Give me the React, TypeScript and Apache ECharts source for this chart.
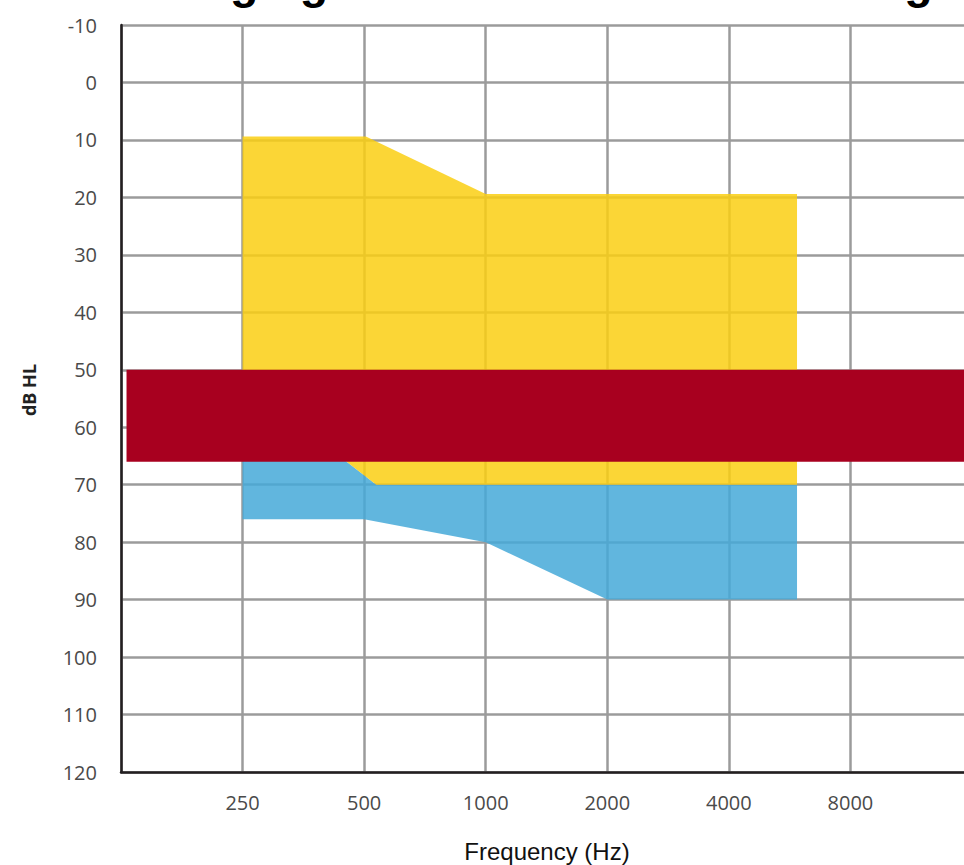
import React, { useEffect, useRef } from 'react';
import * as echarts from 'echarts';

// ---- texts ----
const titleText = 'Ringing in the ears and the hearing';
const yAxisName = 'dB HL';
const xAxisName = 'Frequency (Hz)';

// ---- axes ----
const baseHz = 125;
const freqTicksHz = [125, 250, 500, 1000, 2000, 4000, 8000, 16000];
const freqTickLabels = ['', '250', '500', '1000', '2000', '4000', '8000', ''];
const dbMin = -10;
const dbMax = 120;
const dbStep = 10;

// ---- yellow region (top edge, bottom edge) ----
const yellowTopHz = [250, 505, 1000, 5900];
const yellowTopDb = [9.4, 9.4, 19.4, 19.4];
const yellowBottomHz = [250, 536, 5900];
const yellowBottomDb = [52, 70, 70];

// ---- blue region (top edge is yellow bottom edge) ----
const blueBottomHz = [250, 500, 1000, 2000, 5900];
const blueBottomDb = [76, 76, 80, 90, 90];

// ---- red band ----
const redBandHz = [129, 16000];
const redBandDb = [50, 66];

const toOct = (hz: number) => Math.log2(hz / baseHz);

function polygonPoints(topHz: number[], topDb: number[], botHz: number[], botDb: number[]) {
  const pts: number[][] = [];
  topHz.forEach((h, i) => pts.push([toOct(h), topDb[i]]));
  for (let i = botHz.length - 1; i >= 0; i--) pts.push([toOct(botHz[i]), botDb[i]]);
  return pts;
}

function polygonSeries(name: string, pts: number[][], color: string, opacity: number, z: number) {
  return {
    type: 'custom',
    name,
    z,
    data: pts,
    encode: { x: 0, y: 1 },
    silent: true,
    renderItem: (params: any, api: any) => {
      if (params.dataIndex !== 0) return null;
      const points = pts.map((p) => api.coord(p));
      return {
        type: 'polygon',
        shape: { points },
        style: { fill: color, opacity },
      };
    },
  };
}

export default function App() {
  const ref = useRef<HTMLDivElement>(null);

  useEffect(() => {
    if (!ref.current) return;
    const chart = echarts.init(ref.current, undefined, { renderer: 'svg' });

    const yellowPts = polygonPoints(yellowTopHz, yellowTopDb, yellowBottomHz, yellowBottomDb);
    const bluePts = polygonPoints(yellowBottomHz, yellowBottomDb, blueBottomHz, blueBottomDb);
    const redPts = polygonPoints(redBandHz, [redBandDb[0], redBandDb[0]], redBandHz, [redBandDb[1], redBandDb[1]]);

    const tickOct = freqTicksHz.map(toOct);
    const labelFor = (v: number) => {
      const i = tickOct.findIndex((t) => Math.abs(t - v) < 1e-6);
      return i >= 0 ? freqTickLabels[i] : '';
    };

    const gridColor = '#9b9b9b';
    const axisColor = '#231f20';
    const labelFont = 'Open Sans';

    chart.setOption({
      animation: false,
      grid: { left: 121, right: 0, top: 25, bottom: 93, containLabel: false },
      xAxis: {
        type: 'value',
        min: 0,
        max: toOct(freqTicksHz[freqTicksHz.length - 1]),
        interval: 1,
        axisLine: { show: true, onZero: false, lineStyle: { color: axisColor, width: 2.5 } },
        axisTick: { show: false },
        splitLine: { show: true, lineStyle: { color: gridColor, width: 2.5 } },
        axisLabel: {
          formatter: (v: number) => labelFor(v),
          fontSize: 20,
          fontFamily: labelFont,
          color: '#4a4a4a',
          margin: 20,
        },
      },
      yAxis: {
        type: 'value',
        inverse: true,
        min: dbMin,
        max: dbMax,
        interval: dbStep,
        axisLine: { show: true, onZero: false, lineStyle: { color: axisColor, width: 2.5 } },
        axisTick: { show: false },
        splitLine: { show: true, lineStyle: { color: gridColor, width: 2.5 } },
        axisLabel: {
          fontSize: 20,
          fontFamily: labelFont,
          color: '#4a4a4a',
          margin: 24,
        },
      },
      graphic: [
        {
          type: 'text',
          x: 155,
          y: -18.5,
          silent: true,
          style: {
            text: titleText,
            font: 'bold 46.5px "Liberation Sans", Arial, sans-serif',
            fill: '#000',
            align: 'left',
            verticalAlign: 'middle',
          },
        },
        {
          type: 'text',
          x: 29,
          y: 390,
          rotation: Math.PI / 2,
          silent: true,
          style: {
            text: yAxisName,
            font: 'bold 18px "Open Sans", sans-serif',
            fill: '#222',
            align: 'center',
            verticalAlign: 'middle',
          },
        },
        {
          type: 'text',
          x: 547,
          y: 851,
          silent: true,
          style: {
            text: xAxisName,
            font: '24px "Liberation Sans", Arial, sans-serif',
            fill: '#111',
            align: 'center',
            verticalAlign: 'middle',
          },
        },
      ],
      series: [
        polygonSeries('blue', bluePts, '#45a9d8', 0.85, 2),
        polygonSeries('yellow', yellowPts, '#facf13', 0.85, 3),
        polygonSeries('red', redPts, '#a8001f', 1, 4),
      ],
    });

    return () => chart.dispose();
  }, []);

  return (
    <div
      ref={ref}
      style={{ position: 'fixed', left: 0, top: 0, width: 975, height: 865, background: '#fff' }}
    />
  );
}
